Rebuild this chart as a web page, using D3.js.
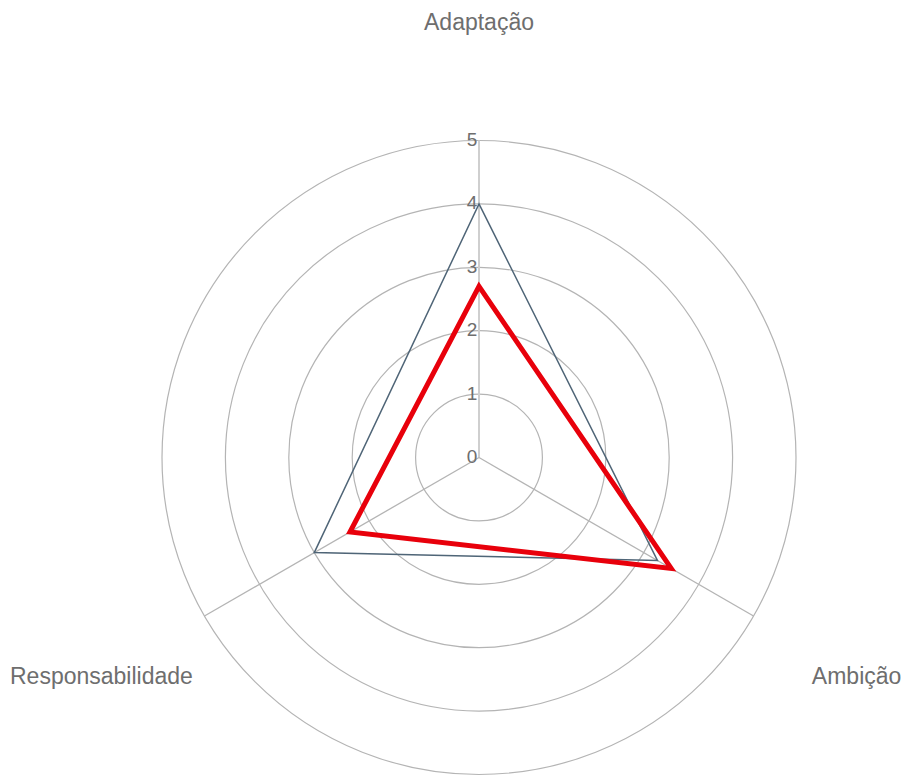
<!DOCTYPE html>
<html>
<head>
<meta charset="utf-8">
<script src="https://cdn.jsdelivr.net/npm/d3@7"></script>
<style>
    body { margin: 0; background: #fff; }
    svg { display: block; font-family: "Liberation Sans", Arial, sans-serif; }
</style>
</head>
<body>
<div id="chart"></div>
<script>
var categories = ['Adaptação', 'Ambição', 'Responsabilidade'];
var reference_values = [4, 3.25, 3];
var score_values = [2.7, 3.5, 2.35];
var tick_values = [0, 1, 2, 3, 4, 5];
var tick_labels = ['0', '1', '2', '3', '4', '5'];

var WIDTH = 907, HEIGHT = 777,
    CX = 479, CY = 457.5,
    RADIUS = 317,
    LABEL_RADIUS = 436;

var svg = d3.select('#chart').append('svg')
    .attr('width', WIDTH)
    .attr('height', HEIGHT);

var g = svg.append('g').attr('transform', 'translate(' + CX + ',' + CY + ')');

var r = d3.scaleLinear().domain([0, 5]).range([0, RADIUS]);
var angle = d3.scalePoint().domain(categories.concat(['_'])).range([0, 2 * Math.PI]);

function point(cat, v){
    var a = angle(cat);
    return [Math.sin(a) * r(v), -Math.cos(a) * r(v)];
}

// grid rings
g.selectAll('circle.ring')
    .data(tick_values.filter(function(d){ return d > 0; }))
    .enter().append('circle')
    .attr('class', 'ring')
    .attr('r', function(d){ return r(d); })
    .attr('fill', 'none')
    .attr('stroke', '#b4b4b4')
    .attr('stroke-width', 1.2);

// spokes
g.selectAll('line.spoke')
    .data(categories)
    .enter().append('line')
    .attr('class', 'spoke')
    .attr('x1', 0).attr('y1', 0)
    .attr('x2', function(d){ return point(d, 5)[0]; })
    .attr('y2', function(d){ return point(d, 5)[1]; })
    .attr('stroke', function(d, i){ return i === 0 ? '#cfcfcf' : '#b4b4b4'; })
    .attr('stroke-width', function(d, i){ return i === 0 ? 2 : 1.3; });

// series polygons
var line = d3.line().curve(d3.curveLinearClosed);

g.append('path')
    .datum(categories.map(function(c, i){ return point(c, reference_values[i]); }))
    .attr('d', line)
    .attr('fill', 'none')
    .attr('stroke', '#4f6577')
    .attr('stroke-width', 1.5);

g.append('path')
    .datum(categories.map(function(c, i){ return point(c, score_values[i]); }))
    .attr('d', line)
    .attr('fill', 'none')
    .attr('stroke', '#e8000b')
    .attr('stroke-width', 5)
    .attr('stroke-linejoin', 'miter');

// tick labels on the first axis
g.selectAll('text.tick')
    .data(tick_values)
    .enter().append('text')
    .attr('class', 'tick')
    .attr('x', -7)
    .attr('y', function(d){ return -r(d) - 1; })
    .attr('text-anchor', 'middle')
    .attr('dominant-baseline', 'central')
    .attr('fill', '#6e6e6e')
    .style('font-size', '19px')
    .text(function(d, i){ return tick_labels[i]; });

// axis labels
g.selectAll('text.label')
    .data(categories)
    .enter().append('text')
    .attr('class', 'label')
    .attr('x', function(d){ var a = angle(d); return Math.sin(a) * LABEL_RADIUS; })
    .attr('y', function(d){ var a = angle(d); return -Math.cos(a) * LABEL_RADIUS; })
    .attr('text-anchor', 'middle')
    .attr('dominant-baseline', 'central')
    .attr('fill', '#6e6e6e')
    .style('font-size', '23px')
    .text(function(d){ return d; });
</script>
</body>
</html>
